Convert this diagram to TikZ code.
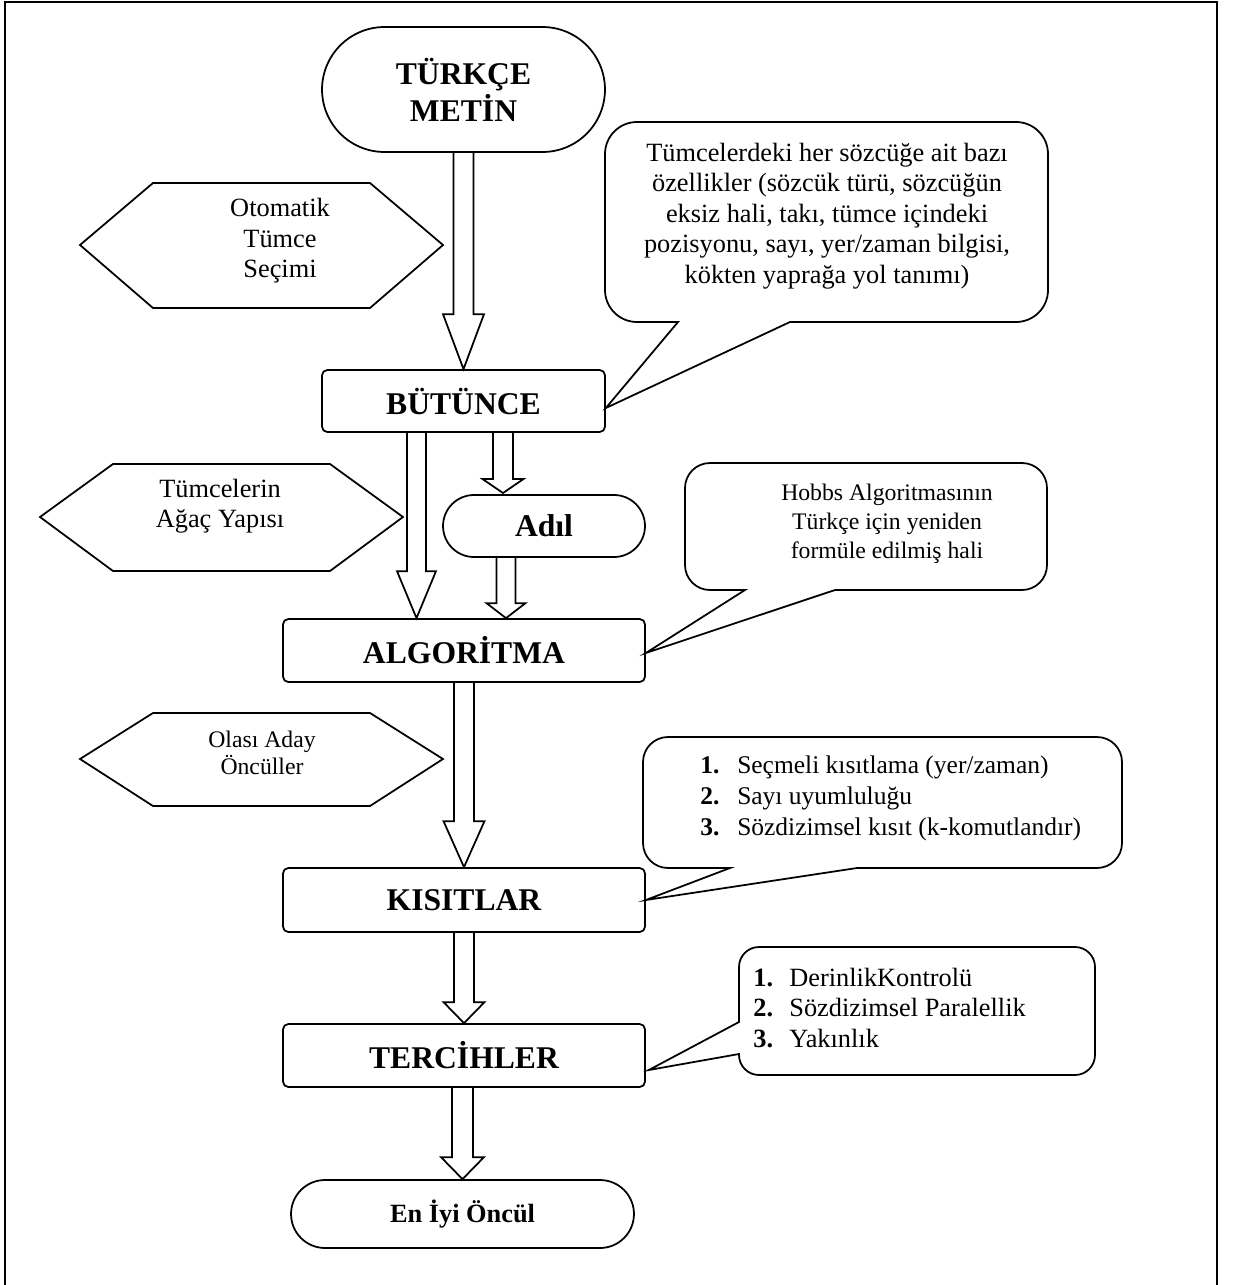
\documentclass[tikz,border=0pt]{standalone}
\usepackage{fontspec}
\setmainfont{Liberation Serif}
\usetikzlibrary{shapes.misc,calc}

\begin{document}
\begin{tikzpicture}[
    x=0.02cm, y=-0.02cm,
    box/.style={rectangle, draw, line width=1pt, rounded corners=3pt,
                minimum width=7.24cm, minimum height=1.26cm, inner sep=0pt,
                align=center, font=\fontsize{18pt}{21pt}\selectfont\bfseries},
    term/.style={rounded rectangle, draw, line width=1pt, inner sep=0pt,
                 align=center, font=\fontsize{18pt}{21pt}\selectfont\bfseries},
    note/.style={inner sep=0pt, align=center, font=\fontsize{15pt}{17.4pt}\selectfont},
    small/.style={inner sep=0pt, align=center, font=\fontsize{13.5pt}{15.6pt}\selectfont},
    hexa/.style={draw, line width=1pt},
    bubble/.style={draw, line width=1pt},
    hollow/.style={draw, line width=1pt, line join=miter}
]
    \useasboundingbox (0,0) rectangle (1237,1285);

    % Frame
    \draw[line width=1pt] (5,1285) -- (5,2) -- (1217,2) -- (1217,1285);

    % Main flow
    \node[term, minimum width=5.66cm, minimum height=2.5cm] (metin) at (463.5,89.5) {TÜRKÇE\\METİN};
    \node[box, minimum width=5.66cm, minimum height=1.24cm] (bun) at (463.5,401) {BÜTÜNCE};
    \node[term, minimum width=4.04cm, minimum height=1.24cm] (adil) at (544,526) {Adıl};
    \node[box] (alg) at (464,650.5) {ALGORİTMA};
    \node[box, minimum height=1.28cm] (kis) at (464,900) {KISITLAR};
    \node[box] (ter) at (464,1055.5) {TERCİHLER};
    \node[term, minimum width=6.86cm, minimum height=1.36cm,
          font=\fontsize{15pt}{18pt}\selectfont\bfseries] (eniyi) at (462.5,1214) {En İyi Öncül};

    % Side inputs
    \draw[hexa] (80,245) -- (153,183) -- (370,183) -- (443,245) -- (370,308) -- (153,308) -- cycle;
    \node[note] (secim) at (280,241) {Otomatik\\Tümce\\Seçimi};
    \draw[hexa] (40,517) -- (113,464) -- (330,464) -- (403,517) -- (330,571) -- (113,571) -- cycle;
    \node[note] (agac) at (220,506) {Tümcelerin\\Ağaç Yapısı};
    \draw[hexa] (80,759) -- (153,713) -- (370,713) -- (443,759) -- (370,806) -- (153,806) -- cycle;
    \node[small] (aday) at (262,753) {Olası Aday\\Öncüller};

    % Callouts
    \draw[bubble] (826,122) [rounded corners=0.64cm] -- (605,122) -- (605,322)
        [sharp corners] -- (678,322) -- ($(bun.east)+(0,7)$) -- (790,322)
        [rounded corners=0.64cm] -- (1048,322) -- (1048,122) -- cycle;
    \node[note] (ozellik) at (827,216) {Tümcelerdeki her sözcüğe ait bazı\\özellikler (sözcük türü, sözcüğün\\eksiz hali, takı, tümce içindeki\\pozisyonu, sayı, yer/zaman bilgisi,\\kökten yaprağa yol tanımı)};

    \draw[bubble] (866,463) [rounded corners=0.5cm] -- (685,463) -- (685,590)
        [sharp corners] -- (745,590) -- ($(alg.east)+(0,2.5)$) -- (835,590)
        [rounded corners=0.5cm] -- (1047,590) -- (1047,463) -- cycle;
    \node[small, font=\fontsize{13.5pt}{16.4pt}\selectfont] (hobbs) at (887,524) {Hobbs Algoritmasının\\Türkçe için yeniden\\formüle edilmiş hali};

    \draw[bubble] (882,737) [rounded corners=0.5cm] -- (643,737) -- (643,868)
        [sharp corners] -- (730,868) -- (kis.east) -- (857,868)
        [rounded corners=0.5cm] -- (1122,868) -- (1122,737) -- cycle;
    \node[note, anchor=west, align=left, font=\fontsize{14.5pt}{17.6pt}\selectfont] (kisitlist) at (700,798)
        {\makebox[21pt][l]{\textbf{1.}}Seçmeli kısıtlama (yer/zaman)\\
         \makebox[21pt][l]{\textbf{2.}}Sayı uyumluluğu\\
         \makebox[21pt][l]{\textbf{3.}}Sözdizimsel kısıt (k-komutlandır)};

    \draw[bubble] (917,947) [rounded corners=0.4cm] -- (739,947)
        [sharp corners] -- (739,1022) -- ($(ter.east)+(3,14.5)$) -- (739,1054)
        [rounded corners=0.4cm] -- (739,1075) -- (1095,1075) -- (1095,947) -- cycle;
    \node[note, anchor=west, align=left, font=\fontsize{15pt}{17.6pt}\selectfont] (terclist) at (753,1008)
        {\makebox[20.5pt][l]{\textbf{1.}}DerinlikKontrolü\\
         \makebox[20.5pt][l]{\textbf{2.}}Sözdizimsel Paralellik\\
         \makebox[20.5pt][l]{\textbf{3.}}Yakınlık};

    % Block arrows
    \coordinate (a1s) at (metin.south);
    \coordinate (a1t) at (bun.north);
    \coordinate (a2s) at (503,0 |- bun.south);
    \coordinate (a2t) at (503,493);
    \coordinate (a3s) at (416.5,0 |- bun.south);
    \coordinate (a3t) at (416.5,0 |- alg.north);
    \coordinate (a4s) at (506,0 |- adil.south);
    \coordinate (a4t) at (506,0 |- alg.north);
    \coordinate (a5s) at (alg.south);
    \coordinate (a5t) at (kis.north);
    \coordinate (a6s) at (kis.south);
    \coordinate (a6t) at (ter.north);
    \coordinate (a7s) at (462.5,0 |- ter.south);
    \coordinate (a7t) at (eniyi.north);
    \foreach \sa/\ta/\hl/\hw in {a1s/a1t/55/10, a2s/a2t/14/10, a3s/a3t/47/9.5,
        a4s/a4t/15/9.5, a5s/a5t/46/10, a6s/a6t/21/10, a7s/a7t/22/10.5}
        \draw[hollow] ($(\sa)+(-\hw,0)$) -- ($(\ta)+(-\hw,-\hl)$) -- ($(\ta)+(-2*\hw-0.5,-\hl)$)
            -- (\ta) -- ($(\ta)+(2*\hw+0.5,-\hl)$) -- ($(\ta)+(\hw,-\hl)$) -- ($(\sa)+(\hw,0)$);
\end{tikzpicture}
\end{document}
